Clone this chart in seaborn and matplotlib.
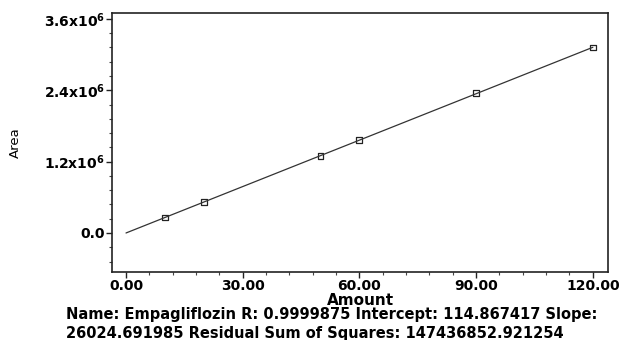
#Calibration curve of Empagliflozin (Area vs Amount)

import numpy as np
import pandas as pd
import matplotlib
matplotlib.use("Agg")
import matplotlib.pyplot as plt
import seaborn as sns
from matplotlib.ticker import MultipleLocator, FixedLocator

#Data
amount = [10, 20, 50, 60, 90, 120]
area = [0.26e6, 0.52e6, 1.30e6, 1.56e6, 2.35e6, 3.12e6]

#Regression values printed under the chart
intercept = 114.867417
slope = 26024.691985
fit_x = [0, 120]

y_ticks = [0, 1.2e6, 2.4e6, 3.6e6]
y_tick_labels = ["0.0", r"1.2x10$^{6}$", r"2.4x10$^{6}$", r"3.6x10$^{6}$"]
x_ticks = [0, 30, 60, 90, 120]
x_tick_labels = ["0.00", "30.00", "60.00", "90.00", "120.00"]

caption = ("Name: Empagliflozin R: 0.9999875 Intercept: 114.867417 Slope:\n"
           "26024.691985 Residual Sum of Squares: 147436852.921254")

sns.set_style("ticks")
plt.rcParams['font.family'] = ['DejaVu Sans']
plt.rcParams['mathtext.fontset'] = 'custom'
plt.rcParams['mathtext.rm'] = 'DejaVu Sans:bold'
plt.rcParams['mathtext.bf'] = 'DejaVu Sans:bold'
plt.rcParams['text.color'] = 'black'
plt.rcParams['axes.labelcolor'] = 'black'
plt.rcParams['xtick.color'] = 'black'
plt.rcParams['ytick.color'] = 'black'

df = pd.DataFrame({"Amount": amount, "Area": area})
fit = pd.DataFrame({"Amount": fit_x, "Area": [intercept + slope * v for v in fit_x]})

fig = plt.figure(figsize=(6.21, 3.40), dpi=100)
ax = fig.add_axes([112 / 621, 1 - 272 / 340, 496 / 621, 259 / 340])

sns.lineplot(data=fit, x="Amount", y="Area", color="#333333", linewidth=0.9, ax=ax)
sns.scatterplot(data=df, x="Amount", y="Area", marker="s", s=18, facecolor="none",
                edgecolor="#222222", linewidth=0.9, ax=ax)

ax.set_xlim(-3.6, 123.9)
ax.set_ylim(-0.656e6, 3.70e6)

ax.xaxis.set_major_locator(FixedLocator(x_ticks))
ax.set_xticklabels(x_tick_labels, fontsize=10, fontweight="bold")
ax.xaxis.set_minor_locator(MultipleLocator(6))
ax.yaxis.set_major_locator(FixedLocator(y_ticks))
ax.set_yticklabels(y_tick_labels, fontsize=10, fontweight="bold")
ax.yaxis.set_minor_locator(MultipleLocator(0.24e6))
ax.tick_params(which="major", length=4, width=1, color="#222222", pad=1)
ax.tick_params(which="minor", length=2, width=0.8, color="#444444")

for s in ax.spines.values():
    s.set_visible(True)
    s.set_linewidth(1.2)
    s.set_color("#222222")

ax.set_xlabel("Amount", fontsize=11, fontweight="bold", labelpad=0)
ax.set_ylabel("Area", fontsize=9.5, labelpad=16)

fig.text(66 / 621, 1 - 307 / 340, caption, fontsize=10.5, fontweight="bold",
         va="top", ha="left", linespacing=1.3)

fig.savefig("out.png", dpi=100)
